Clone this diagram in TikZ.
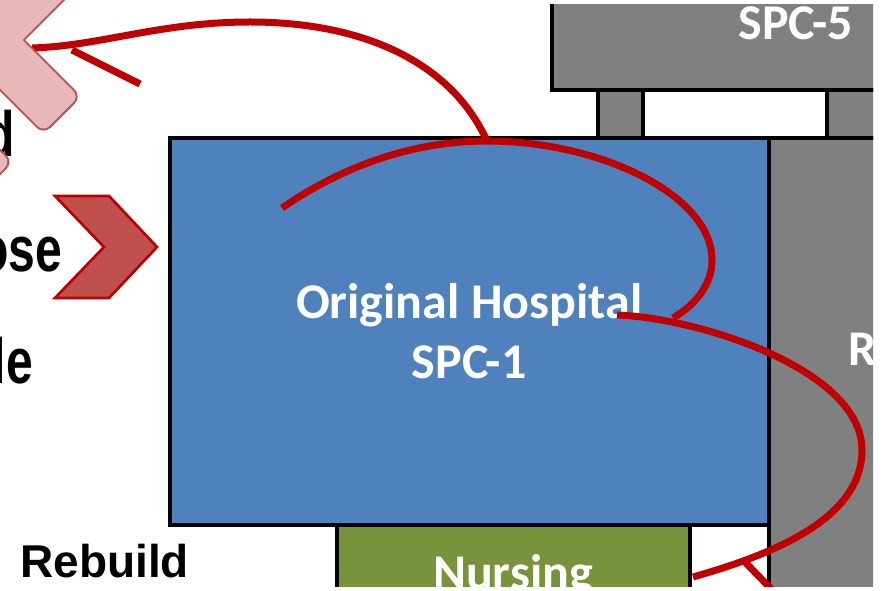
\documentclass[tikz,border=0pt]{standalone}
\usepackage{fontspec}
\setmainfont{Carlito}
\newfontfamily\arialfont{Liberation Sans}
\usetikzlibrary{positioning,calc}

\definecolor{hospblue}{HTML}{4F81BD}
\definecolor{spcgrey}{HTML}{808080}
\definecolor{nursegreen}{HTML}{77933C}
\definecolor{flowred}{HTML}{C00000}
\definecolor{crosspink}{HTML}{E6B9B8}
\definecolor{crossedge}{HTML}{C0504D}

\begin{document}
\begin{tikzpicture}[x=0.75pt, y=-0.75pt,
    wing/.style={rectangle, draw=black, line width=3pt, inner sep=0pt},
    hosp/.style={wing, fill=hospblue},
    annex/.style={wing, fill=spcgrey},
    nurse/.style={wing, fill=nursegreen},
    blank/.style={wing, fill=white},
    wtxt/.style={text=white, inner sep=0pt, align=center,
                 font=\bfseries\fontsize{37.5}{45}\selectfont},
    opt/.style={inner sep=0pt, font=\arialfont\bfseries\fontsize{48}{56}\selectfont},
    rebuild/.style={inner sep=0pt, font=\arialfont\bfseries\fontsize{34.5}{41}\selectfont},
    route/.style={draw=flowred, line width=5.25pt},
    crossline/.style={draw=crossedge, line width=3pt, rounded corners=6pt},
    crossfill/.style={fill=crosspink, rounded corners=6pt},
    chev/.style={draw=flowred, line width=2pt, fill=crossedge, line join=miter}
]
\useasboundingbox (0,0) rectangle (884,591);
\clip (0,0) rectangle (873,586);

% links between SPC-5 and the hospital
\node[annex, minimum width=33.75pt, minimum height=36pt] (linkA) at (620.5,114) {};
\node[annex, minimum width=129.75pt, minimum height=36pt] (linkB) at (913.5,114) {};

% SPC-5 wing
\begin{scope}
    \clip (0,5) rectangle (873,586);
    \node[annex, minimum width=366pt, minimum height=94.5pt] (spc5) at (796,27) {};
\end{scope}
\node[wtxt, anchor=base] (spc5txt) at (796,40) {SPC-5};

% right wing
\node[annex, minimum width=172.9pt, minimum height=421.5pt] (rwing) at (884.75,419) {};
\node[wtxt, anchor=base west] (rtxt) at (848,365) {R};

% lower wings
\node[nurse, minimum width=264.4pt, minimum height=131.25pt] (nurs) at (513.75,612.5) {};
\node[blank, minimum width=59.6pt, minimum height=131.25pt] (gap) at (729.75,612.5) {};
\node[wtxt, anchor=base] (nurstxt) at (513,589) {Nursing};

% original hospital
\node[hosp, wtxt, minimum width=449.6pt, minimum height=290.25pt] (orig) at (469.25,331.5)
    {Original Hospital\\SPC-1};

% options list
\node[opt, anchor=base east] (optA) at (15,157) {\scalebox{0.75}[1]{d}};
\node[opt, anchor=base east] (optB) at (62,272) {\scalebox{0.75}[1]{ose}};
\node[opt, anchor=base east] (optC) at (33,383) {\scalebox{0.75}[1]{le}};
\node[rebuild, anchor=base west] (optD) at (20,577) {Rebuild};

% chevron
\draw[chev] (55,196) -- (109,196) -- (157,247) -- (109,298) -- (55,298) -- (104,247) -- cycle;

% route points
\coordinate (xTip) at (32,48);
\coordinate (hospTop) at (487,141);
\coordinate (hospStart) at (282,208);
\coordinate (hospEnd) at (673,318);
\coordinate (loopStart) at (617,315);
\coordinate (loopEnd) at (693,577);
\coordinate (barbA) at (72,50);
\coordinate (barbAend) at (140,84);
\coordinate (barbB) at (744,561);
\coordinate (barbBend) at (778,596);

% red routes
\draw[route] (hospTop) .. controls (450,60) and (360,22) .. (250,22)
    .. controls (160,22) and (100,46) .. (xTip);
\draw[route] (barbA) -- (barbAend);
\draw[route] (hospStart) .. controls (340,168) and (410,141) .. (hospTop)
    .. controls (600,141) and (712,195) .. (712,260)
    .. controls (712,285) and (695,305) .. (hospEnd);
\draw[route] (loopStart) .. controls (700,318) and (862,370) .. (862,450)
    .. controls (862,520) and (770,555) .. (loopEnd);
\draw[route] (barbB) -- (barbBend);

% crossed-out marks
\begin{scope}[rotate around={45:(-13,40)}]
    \path[crossline] (-118,15) rectangle (92,65);
\end{scope}
\begin{scope}[rotate around={-45:(-13,40)}]
    \path[crossline] (-118,15) rectangle (92,65);
\end{scope}
\begin{scope}[rotate around={45:(-12,162)}]
    \path[crossline] (-28,146) rectangle (4,178);
\end{scope}
\begin{scope}[rotate around={45:(-13,40)}]
    \path[crossfill] (-118,15) rectangle (92,65);
\end{scope}
\begin{scope}[rotate around={-45:(-13,40)}]
    \path[crossfill] (-118,15) rectangle (92,65);
\end{scope}
\begin{scope}[rotate around={45:(-12,162)}]
    \path[crossfill] (-28,146) rectangle (4,178);
\end{scope}
\end{tikzpicture}
\end{document}
